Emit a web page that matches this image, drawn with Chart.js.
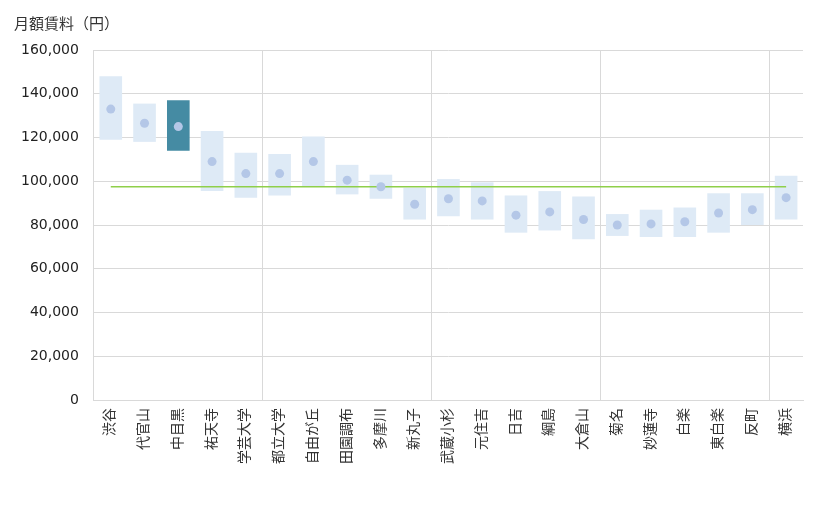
<!DOCTYPE html>
<html>
<head>
<meta charset="utf-8">
<script src="https://cdn.jsdelivr.net/npm/chart.js@4"></script>
<style>
  html, body { margin: 0; padding: 0; background: #fff; }
  #wrap { width: 820px; height: 510px; position: relative; }
</style>
</head>
<body>
<div id="wrap"><canvas id="rentChart"></canvas></div>
<script>
// Stations along the line
const stations = ['渋谷', '代官山', '中目黒', '祐天寺', '学芸大学', '都立大学', '自由が丘', '田園調布', '多摩川', '新丸子',
  '武蔵小杉', '元住吉', '日吉', '綱島', '大倉山', '菊名', '妙蓮寺', '白楽', '東白楽', '反町', '横浜'];

// Rent range per station (yen)
const rentMin = [119000, 118000, 114000, 95500, 92500, 93500, 97500, 94000, 92000, 82500,
  84000, 82500, 76500, 77500, 73500, 75000, 74500, 74500, 76500, 80000, 82500];
const rentMax = [148000, 135500, 137000, 123000, 113000, 112500, 120500, 107500, 103000, 97000,
  101000, 99500, 93500, 95500, 93000, 85000, 87000, 88000, 94500, 94500, 102500];
// Average rent per station
const rentAvg = [133000, 126500, 125000, 109000, 103500, 103500, 109000, 100500, 97500, 89500,
  92000, 91000, 84500, 86000, 82500, 80000, 80500, 81500, 85500, 87000, 92500];

// Overall average and the station to highlight
const overallAvg = 97500;
const highlight = '中目黒';

const yTicks = [0, 20000, 40000, 60000, 80000, 100000, 120000, 140000, 160000];

const FONT = "'DejaVu Sans', 'Noto Sans CJK JP', sans-serif";

// Title in the top left corner
const titlePlugin = {
  id: 'cornerTitle',
  afterDraw(chart) {
    const ctx = chart.ctx;
    ctx.save();
    ctx.font = "15px 'Noto Sans CJK JP', sans-serif";
    ctx.fillStyle = '#333';
    ctx.textBaseline = 'middle';
    ctx.textAlign = 'left';
    ctx.fillText('月額賃料（円）', 14, 23);
    ctx.restore();
  }
};

const ranges = stations.map((s, i) => [rentMin[i], rentMax[i]]);

new Chart(document.getElementById('rentChart'), {
  type: 'bar',
  data: {
    labels: stations,
    datasets: [
      {
        type: 'line',
        label: '平均',
        data: rentAvg,
        showLine: false,
        pointRadius: 4.5,
        pointHoverRadius: 4.5,
        pointBackgroundColor: '#b4c7e7',
        pointBorderWidth: 0,
        order: 1
      },
      {
        type: 'line',
        label: '全体平均',
        data: [{ x: stations[0], y: overallAvg }, { x: stations[stations.length - 1], y: overallAvg }],
        borderColor: '#8fcf4a',
        borderWidth: 1.5,
        pointRadius: 0,
        order: 2
      },
      {
        label: '範囲',
        data: ranges,
        backgroundColor: stations.map(s => s === highlight ? '#458ba3' : '#deeaf6'),
        borderWidth: 0,
        barPercentage: 0.67,
        categoryPercentage: 1,
        order: 3
      }
    ]
  },
  options: {
    responsive: true,
    maintainAspectRatio: false,
    animation: false,
    layout: { padding: { top: 50, left: 6, right: 17, bottom: 38 } },
    plugins: {
      legend: { display: false },
      tooltip: { enabled: false }
    },
    scales: {
      x: {
        offset: true,
        grid: {
          offset: true,
          drawTicks: false,
          color: ctx => (ctx.index > 0 && ctx.index % 5 === 0) ? '#d9d9d9' : 'rgba(0,0,0,0)'
        },
        border: { color: '#d9d9d9' },
        ticks: {
          minRotation: 90,
          maxRotation: 90,
          padding: 8,
          color: '#333',
          font: { family: FONT, size: 14 }
        }
      },
      y: {
        min: 0,
        max: 160000,
        afterBuildTicks: axis => { axis.ticks = yTicks.map(v => ({ value: v })); },
        grid: { color: '#d9d9d9', drawTicks: false },
        border: { color: '#d9d9d9' },
        ticks: {
          padding: 15,
          color: '#222',
          font: { family: FONT, size: 14 },
          callback: v => v.toLocaleString('en-US')
        }
      }
    }
  },
  plugins: [titlePlugin]
});
</script>
</body>
</html>
